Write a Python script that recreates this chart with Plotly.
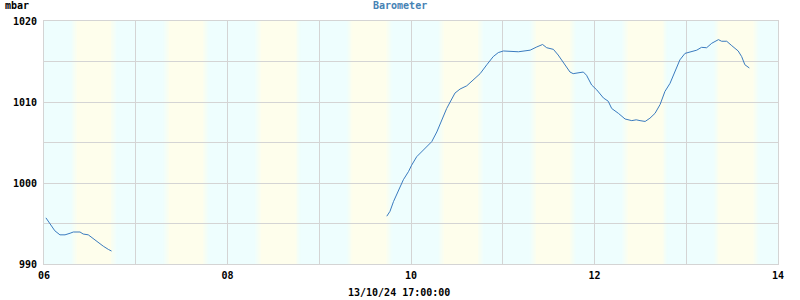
import plotly.graph_objects as go
from datetime import datetime, timedelta

# ---- data ----
times = [
    "2024-10-06 00:30", "2024-10-06 01:35", "2024-10-06 02:50", "2024-10-06 04:10",
    "2024-10-06 05:30", "2024-10-06 06:50", "2024-10-06 07:40", "2024-10-06 09:25",
    "2024-10-06 10:15", "2024-10-06 11:35", "2024-10-06 12:55", "2024-10-06 14:10",
    "2024-10-06 15:30", "2024-10-06 16:50", "2024-10-06 17:40",
    None,
    "2024-10-09 17:40", "2024-10-09 18:30", "2024-10-09 19:25", "2024-10-09 20:40",
    "2024-10-09 22:00", "2024-10-09 23:20", "2024-10-10 00:10", "2024-10-10 01:30",
    "2024-10-10 02:50", "2024-10-10 04:05", "2024-10-10 05:25", "2024-10-10 06:45",
    "2024-10-10 07:35", "2024-10-10 09:20", "2024-10-10 11:30", "2024-10-10 12:50",
    "2024-10-10 14:35", "2024-10-10 16:20", "2024-10-10 18:05", "2024-10-10 19:50",
    "2024-10-10 21:30", "2024-10-10 22:50", "2024-10-11 00:10", "2024-10-11 04:05",
    "2024-10-11 05:25", "2024-10-11 07:10", "2024-10-11 08:55", "2024-10-11 10:25",
    "2024-10-11 11:30", "2024-10-11 13:15", "2024-10-11 14:30", "2024-10-11 16:15",
    "2024-10-11 17:35", "2024-10-11 18:25", "2024-10-11 19:45", "2024-10-11 21:05",
    "2024-10-11 21:55", "2024-10-11 23:15", "2024-10-12 00:35", "2024-10-12 02:20",
    "2024-10-12 03:35", "2024-10-12 04:30", "2024-10-12 06:15", "2024-10-12 08:00",
    "2024-10-12 09:45", "2024-10-12 10:55", "2024-10-12 11:55", "2024-10-12 13:15",
    "2024-10-12 14:30", "2024-10-12 15:50", "2024-10-12 17:10", "2024-10-12 18:25",
    "2024-10-12 19:45", "2024-10-12 21:05", "2024-10-12 22:20", "2024-10-12 23:40",
    "2024-10-13 01:00", "2024-10-13 02:45", "2024-10-13 04:00", "2024-10-13 05:20",
    "2024-10-13 06:40", "2024-10-13 08:25", "2024-10-13 09:15", "2024-10-13 10:35",
    "2024-10-13 11:55", "2024-10-13 13:35", "2024-10-13 14:30", "2024-10-13 15:20",
    "2024-10-13 16:30",
]
pressure = [
    995.7, 994.9, 994.1, 993.6,
    993.6, 993.8, 993.95, 993.95,
    993.7, 993.6, 993.1, 992.6,
    992.2, 991.8, 991.6,
    None,
    995.9, 996.5, 997.7, 999.1,
    1000.4, 1001.4, 1002.2, 1003.25,
    1003.9, 1004.4, 1005.1, 1006.3,
    1007.3, 1009.2, 1011.1, 1011.6,
    1012.0, 1012.7, 1013.5, 1014.6,
    1015.6, 1016.1, 1016.3, 1016.2,
    1016.3, 1016.4, 1016.8, 1017.1,
    1016.7, 1016.5, 1015.8, 1014.6,
    1013.7, 1013.5, 1013.6, 1013.7,
    1013.3, 1012.1, 1011.5, 1010.5,
    1010.1, 1009.2, 1008.6, 1007.9,
    1007.7, 1007.8, 1007.7, 1007.6,
    1008.0, 1008.6, 1009.7, 1011.3,
    1012.3, 1013.7, 1015.2, 1016.0,
    1016.2, 1016.4, 1016.75, 1016.7,
    1017.25, 1017.7, 1017.5, 1017.5,
    1016.95, 1016.3, 1015.6, 1014.6,
    1014.2,
]

days = ["2024-10-06", "2024-10-07", "2024-10-08", "2024-10-09",
        "2024-10-10", "2024-10-11", "2024-10-12", "2024-10-13"]
sunrise = "07:50"
sunset = "18:25"

x_tick_vals = ["2024-10-06", "2024-10-08", "2024-10-10", "2024-10-12", "2024-10-14"]
x_tick_text = ["06", "08", "10", "12", "14"]
y_tick_vals = [990, 1000, 1010, 1020]
y_tick_text = ["990", "1000", "1010", "1020"]

# ---- style ----
NIGHT = (238, 254, 254)
DAY = (254, 254, 236)
GRID = "#d4d4d4"
LINE = "#3a7bbf"
FONT = "DejaVu Sans Mono"

fig = go.Figure()

fig.add_trace(go.Scatter(
    x=times, y=pressure, mode="lines",
    line=dict(color=LINE, width=1), connectgaps=False,
    hoverinfo="skip", showlegend=False,
))

shapes = []
shapes.append(dict(type="rect", xref="x", yref="paper",
                   x0="2024-10-06", x1="2024-10-14", y0=0, y1=1,
                   fillcolor="rgb(%d,%d,%d)" % NIGHT, line=dict(width=0), layer="below"))


def mix(a, b, t):
    return "rgb(%d,%d,%d)" % tuple(round(a[i] + (b[i] - a[i]) * t) for i in range(3))


steps = 6
trans = timedelta(minutes=90)
for d in days:
    sr = datetime.strptime(d + " " + sunrise, "%Y-%m-%d %H:%M")
    ss = datetime.strptime(d + " " + sunset, "%Y-%m-%d %H:%M")
    # full day core
    shapes.append(dict(type="rect", xref="x", yref="paper",
                       x0=sr + trans / 2, x1=ss - trans / 2, y0=0, y1=1,
                       fillcolor=mix(NIGHT, DAY, 1), line=dict(width=0), layer="below"))
    for k in range(steps):
        t = (k + 0.5) / steps
        a0 = sr - trans / 2 + trans * k / steps
        a1 = sr - trans / 2 + trans * (k + 1) / steps
        shapes.append(dict(type="rect", xref="x", yref="paper", x0=a0, x1=a1, y0=0, y1=1,
                           fillcolor=mix(NIGHT, DAY, t), line=dict(width=0), layer="below"))
        b0 = ss - trans / 2 + trans * k / steps
        b1 = ss - trans / 2 + trans * (k + 1) / steps
        shapes.append(dict(type="rect", xref="x", yref="paper", x0=b0, x1=b1, y0=0, y1=1,
                           fillcolor=mix(DAY, NIGHT, t), line=dict(width=0), layer="below"))

fig.update_layout(
    width=800, height=300,
    margin=dict(l=44, r=22, t=21, b=36),
    paper_bgcolor="white", plot_bgcolor="white",
    shapes=shapes,
    font=dict(family=FONT, size=10, color="black", weight="bold"),
    xaxis=dict(
        type="date", range=["2024-10-06", "2024-10-14"],
        tickmode="array", tickvals=x_tick_vals, ticktext=x_tick_text,
        showgrid=True, gridcolor=GRID, gridwidth=1,
        minor=dict(dtick=86400000, tick0="2024-10-06", showgrid=True, gridcolor=GRID, gridwidth=1),
        showline=True, linecolor=GRID, linewidth=1, mirror=True,
        zeroline=False, ticks="", ticklabelstandoff=2,
        tickfont=dict(family=FONT, size=10, color="black", weight="bold"),
        fixedrange=True,
    ),
    yaxis=dict(
        range=[990, 1020],
        tickmode="array", tickvals=y_tick_vals, ticktext=y_tick_text,
        showgrid=True, gridcolor=GRID, gridwidth=1,
        minor=dict(dtick=5, tick0=990, showgrid=True, gridcolor=GRID, gridwidth=1),
        showline=True, linecolor=GRID, linewidth=1, mirror=True,
        zeroline=False, ticks="", ticklabelstandoff=4,
        tickfont=dict(family=FONT, size=10, color="black", weight="bold"),
        fixedrange=True,
    ),
    annotations=[
        dict(text="Barometer", xref="paper", yref="paper",
             x=(400 - 44) / 734, y=(264 - 6) / 243, xanchor="center", yanchor="middle",
             showarrow=False, font=dict(family=FONT, size=10, color="#4682b4", weight="bold")),
        dict(text="mbar", xref="paper", yref="paper",
             x=(3 - 44) / 734, y=(264 - 6) / 243, xanchor="left", yanchor="middle",
             showarrow=False, font=dict(family=FONT, size=10, color="black", weight="bold")),
        dict(text="13/10/24 17:00:00", xref="paper", yref="paper",
             x=(399 - 44) / 734, y=(264 - 292) / 243, xanchor="center", yanchor="middle",
             showarrow=False, font=dict(family=FONT, size=10, color="black", weight="bold")),
    ],
)

fig.write_html("out.html", config={"displayModeBar": False})
